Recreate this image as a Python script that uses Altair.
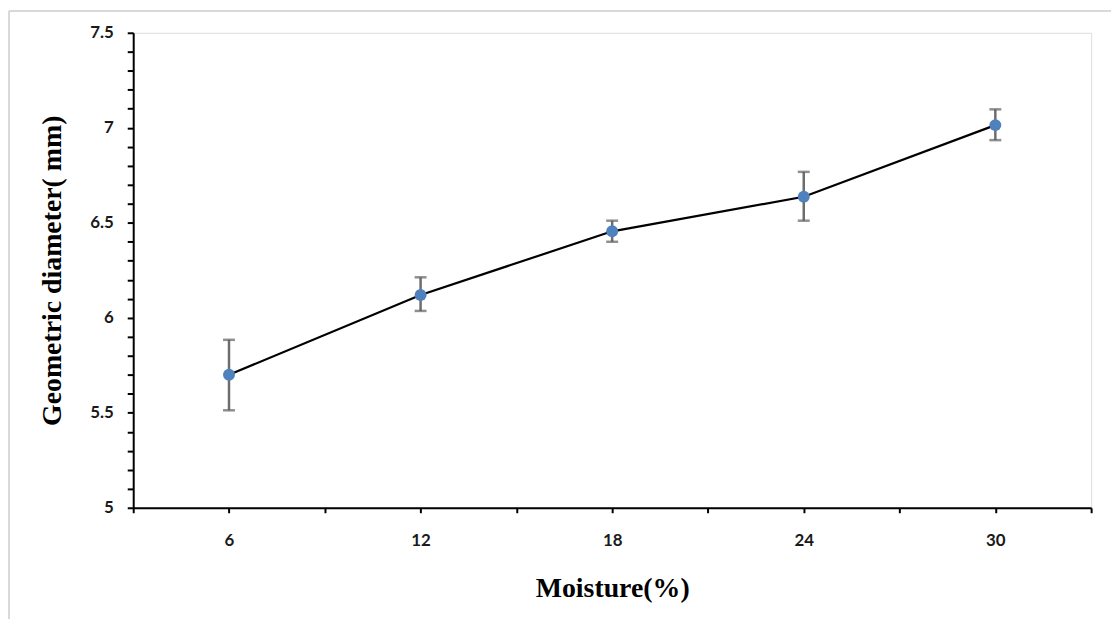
import altair as alt
import pandas as pd

moisture = [6, 12, 18, 24, 30]
diameter = [5.70, 6.12, 6.455, 6.637, 7.014]
err_low = [5.513, 6.036, 6.40, 6.511, 6.935]
err_high = [5.884, 6.213, 6.511, 6.768, 7.097]

x_ticks = [3, 6, 9, 12, 15, 18, 21, 24, 27, 30, 33]
y_ticks = [5.0, 5.1, 5.2, 5.3, 5.4, 5.5, 5.6, 5.7, 5.8, 5.9, 6.0, 6.1, 6.2,
           6.3, 6.4, 6.5, 6.6, 6.7, 6.8, 6.9, 7.0, 7.1, 7.2, 7.3, 7.4, 7.5]

df = pd.DataFrame({"moisture": moisture, "diameter": diameter,
                   "lo": err_low, "hi": err_high})

W, H = 964, 478

xscale = alt.Scale(domain=[3, 33], nice=False, zero=False)
yscale = alt.Scale(domain=[5, 7.5], nice=False, zero=False)

xaxis = alt.Axis(
    values=x_ticks,
    labelExpr="(datum.value % 6 == 0) ? datum.value : ''",
    labelOverlap=False,
    title="Moisture(%)", titleFont="Liberation Serif", titleFontSize=28,
    titleFontWeight="bold", titleColor="black", titlePadding=26,
    labelFont="Lato", labelFontSize=17, labelFontWeight="bold", labelColor="#1a1a1a",
    labelPadding=20, tickSize=5, tickWidth=2, tickColor="black",
    domainColor="black", domainWidth=2, grid=False,
)
yaxis = alt.Axis(
    values=y_ticks,
    labelExpr="(round(datum.value * 10) % 5 == 0) ? format(datum.value, '') : ''",
    labelOverlap=False,
    title="Geometric diameter( mm)", titleFont="Liberation Serif", titleFontSize=28,
    titleFontWeight="bold", titleColor="black",
    titleX=-81, titleY=239, titleBaseline="middle", titleAlign="center", titleAngle=270,
    labelFont="Lato", labelFontSize=17, labelFontWeight="bold", labelColor="#1a1a1a",
    labelPadding=14, tickSize=6, tickWidth=2, tickColor="black",
    domainColor="black", domainWidth=2, grid=False,
)

X = alt.X("moisture:Q", scale=xscale, axis=xaxis)


def Y(field):
    return alt.Y(field, type="quantitative", scale=yscale, axis=yaxis)


base = alt.Chart(df)

rules = base.mark_rule(color="#6d6d6d", strokeWidth=2.5).encode(
    x=X, y=Y("lo"), y2="hi:Q")
cap_lo = base.mark_tick(color="#5f5f5f", thickness=2.5, size=12, orient="horizontal").encode(
    x=X, y=Y("lo"))
cap_hi = base.mark_tick(color="#5f5f5f", thickness=2.5, size=12, orient="horizontal").encode(
    x=X, y=Y("hi"))
line = base.mark_line(color="black", strokeWidth=2.2).encode(x=X, y=Y("diameter"))
points = base.mark_circle(color="#4F81BD", opacity=1, size=145).encode(x=X, y=Y("diameter"))

border_top = alt.Chart(pd.DataFrame({"a": [0]})).mark_rule(
    color="#d9d9d9", strokeWidth=2, clip=False).encode(
    x=alt.value(-125), x2=alt.value(1000), y=alt.value(-22))
border_left = alt.Chart(pd.DataFrame({"a": [0]})).mark_rule(
    color="#d9d9d9", strokeWidth=2, clip=False).encode(
    x=alt.value(-125), y=alt.value(-22), y2=alt.value(620))

chart = alt.layer(rules, cap_lo, cap_hi, line, points, border_top, border_left).properties(
    width=W, height=H,
    autosize=alt.AutoSizeParams(type="none"),
    padding={"left": 126, "top": 23, "right": 20, "bottom": 110},
).configure_view(strokeWidth=0, stroke="transparent").configure(background="white")

chart.save("out.html", embed_options={"renderer": "svg", "actions": False})
